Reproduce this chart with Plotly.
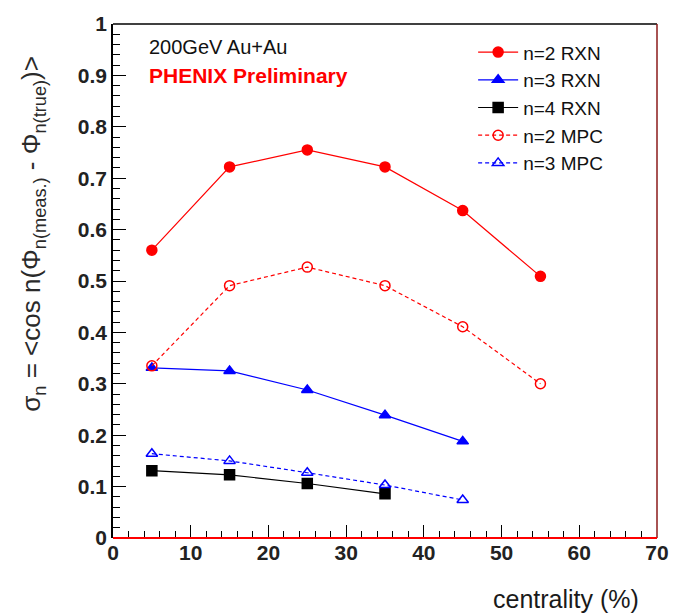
import plotly.graph_objects as go

# centrality bins (%) and event-plane resolution values
cent6 = [5, 15, 25, 35, 45, 55]
cent5 = [5, 15, 25, 35, 45]
cent4 = [5, 15, 25, 35]

n2_rxn = [0.560, 0.722, 0.755, 0.722, 0.637, 0.509]
n3_rxn = [0.331, 0.325, 0.288, 0.239, 0.188]
n4_rxn = [0.131, 0.123, 0.106, 0.086]
n2_mpc = [0.335, 0.491, 0.527, 0.491, 0.411, 0.300]
n3_mpc = [0.164, 0.150, 0.127, 0.103, 0.074]

FONT = "Liberation Sans, Arial, sans-serif"

fig = go.Figure()

series = [
    ("n=2 RXN", cent6, n2_rxn, "#ff0000", "solid", "circle"),
    ("n=3 RXN", cent5, n3_rxn, "#0000ff", "solid", "triangle-up"),
    ("n=4 RXN", cent4, n4_rxn, "#000000", "solid", "square"),
    ("n=2 MPC", cent6, n2_mpc, "#ff0000", "4px,3px", "circle-open"),
    ("n=3 MPC", cent5, n3_mpc, "#0000ff", "4px,3px", "triangle-up-open"),
]
for name, xs, ys, col, dash, sym in series:
    fig.add_trace(go.Scatter(
        x=xs, y=ys, name=name, mode="lines+markers",
        line=dict(color=col, width=1.2, dash=dash),
        marker=dict(symbol=sym, size=10, color=col,
                    line=dict(color=col, width=1.5)),
    ))

# frame: black top, dark red right, red zero line at bottom
fig.add_shape(type="line", xref="paper", yref="paper", x0=0, x1=1, y0=1, y1=1,
              line=dict(color="#000000", width=1.5))
fig.add_shape(type="line", xref="paper", yref="paper", x0=1, x1=1, y0=0, y1=1,
              line=dict(color="#8b1a1a", width=1.5))
fig.add_shape(type="line", xref="paper", yref="paper", x0=0, x1=1, y0=0, y1=0,
              line=dict(color="#ff0000", width=2))

fig.add_annotation(text="200GeV Au+Au", xref="paper", yref="paper",
                   x=0.063, y=0.955, xanchor="left", yanchor="middle",
                   showarrow=False, font=dict(family=FONT, size=20, color="#111111"))
fig.add_annotation(text="<b>PHENIX Preliminary</b>", xref="paper", yref="paper",
                   x=0.063, y=0.900, xanchor="left", yanchor="middle",
                   showarrow=False, font=dict(family=FONT, size=21, color="#ff0000"))

fig.add_annotation(
    text="σ<sub>n</sub> = &lt;cos n(Φ<sub>n(meas.)</sub> - Φ<sub>n(true)</sub>)&gt;",
    xref="paper", yref="paper", x=-0.148, y=0.593, textangle=-90,
    xanchor="center", yanchor="middle", showarrow=False,
    font=dict(family=FONT, size=26, color="#2a2a2a"))
fig.add_annotation(text="centrality (%)", xref="paper", yref="paper",
                   x=0.97, y=-0.118, xanchor="right", yanchor="middle",
                   showarrow=False, font=dict(family=FONT, size=25, color="#1a1a1a"))

fig.update_xaxes(range=[0, 70], dtick=10, ticks="inside", ticklen=13,
                 tickcolor="#000000", showline=False, showgrid=False,
                 zeroline=False, tickfont=dict(family=FONT, size=21, color="#222222"),
                 tickprefix="<b>", ticksuffix="</b>",
                 minor=dict(dtick=2, ticks="inside", ticklen=7, tickcolor="#000000"))
fig.update_yaxes(range=[0, 1], dtick=0.1, ticks="inside", ticklen=13,
                 tickcolor="#000000", showline=True, linecolor="#000000",
                 linewidth=1.5, showgrid=False, zeroline=False,
                 tickformat=".1~f",
                 tickfont=dict(family=FONT, size=21, color="#222222"),
                 tickprefix="<b>", ticksuffix="</b>",
                 minor=dict(dtick=0.02, ticks="inside", ticklen=7, tickcolor="#000000"))

fig.update_layout(
    width=681, height=616,
    margin=dict(l=113, r=22, t=15, b=78),
    plot_bgcolor="white", paper_bgcolor="white",
    font=dict(family=FONT),
    legend=dict(x=0.662, y=0.982, xanchor="left", yanchor="top",
                bgcolor="rgba(0,0,0,0)", font=dict(family=FONT, size=19, color="#111111"),
                tracegroupgap=0, itemwidth=40),
)

fig.write_html("out.html")
